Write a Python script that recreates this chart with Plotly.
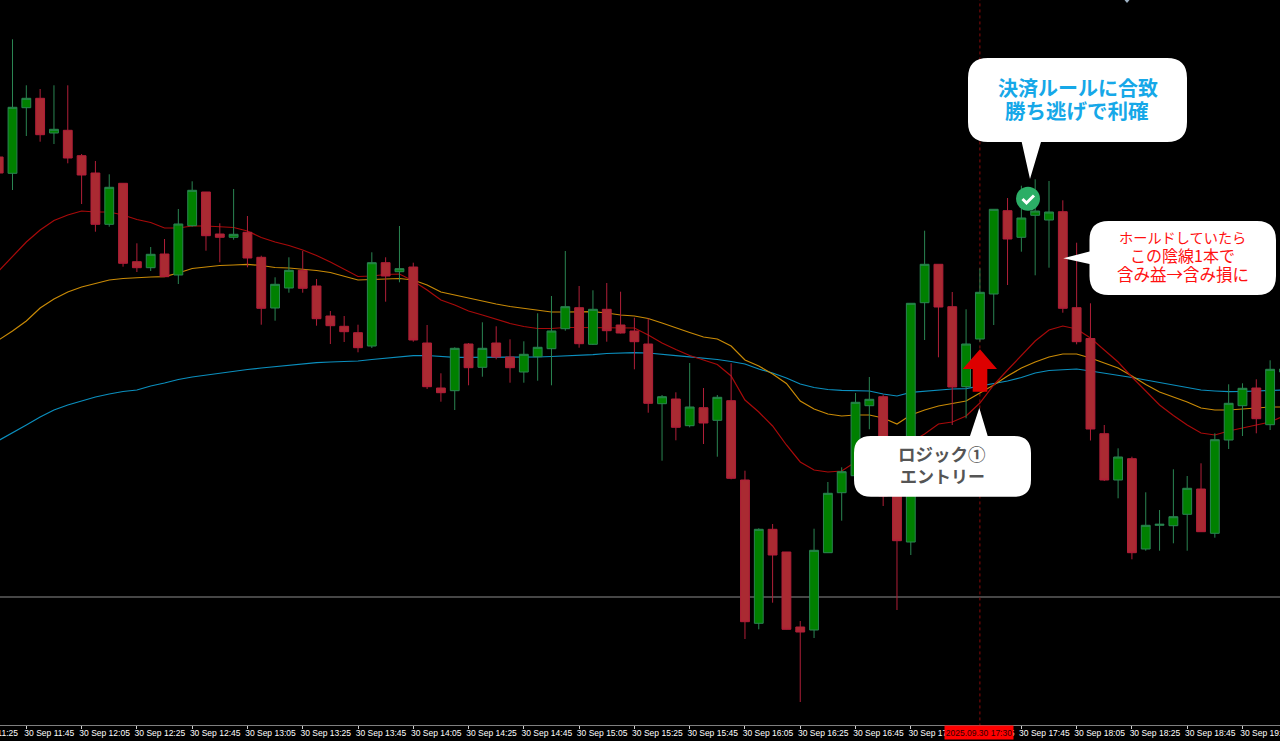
import pandas as pd
import plotly.graph_objects as go

# Candles, five-minute bars from 11:35 (level scale is arbitrary: no price axis is shown)
START = "2025-09-30 11:35"
opens = [568,551.7,617.3,626.7,592,594.7,569.3,552,500.7,541.7,463.3,457.3,471,450,499.3,533,491,487.7,492.7,467.7,
         417,437,454.7,439,409,398.7,392.3,379,462.3,453.3,458,382,337,334.3,381,357.7,382,368,353,368.3,
         376.3,396.3,417.3,380.7,415.7,400,394,381,321.3,326,299.3,317.3,304.7,324.3,245,101.7,195.7,173,98,95,
         172.3,232.3,249.3,319.3,328.3,255,183,422.3,460.7,418.3,338.3,386,431,514.3,487.7,509.7,505,513.3,417.3,386.5,
         291.3,245,266.3,176,199.7,199.3,210.7,236,191.7,285,319.3,337,300.3,353]
closes = [552,617.7,626.7,590.3,595.7,567,550,500.7,537.7,461.7,457.3,470.7,448.3,501,534.7,489.3,487.7,490.7,467,416.7,
          440.7,454.7,436.7,406.3,399.3,393.3,377.3,462.3,449,456.3,385,338.3,332.3,376.7,357.3,376.7,368,357.3,370.7,377.7,
          394,418.3,381.3,415.7,394.3,392,383.3,321.7,328.3,297.7,318,302,327.7,246.7,103.3,195.7,170,95.7,93,174.7,
          231.7,253.3,322.7,325.7,229,184.3,421.7,460.7,418,338,381,432.7,515.7,486,507,514,513,416.7,383.3,296,
          245,268,172.3,199.7,200.7,208.3,236.7,193.3,285.3,321.7,336.7,306.3,355.7,356]
highs = [568,685.7,639.7,636,639.7,639.7,571,564,550.7,541.7,481.7,478,486,516,543.7,533,501.7,536,509,469.3,
         447.7,467.7,474,446,414,409,400.3,472.7,467.7,499,462.3,400,351.7,377.7,382,402.7,398.7,385.7,383.7,411.7,
         429,474,439,434.7,442,433.3,407.3,406.7,330,332.7,362,337,330,361.7,254.3,196.7,201,173,104,196.3,
         243,257.7,332,348,330.3,270,421.7,494.3,460.7,433,415.7,456.7,515.7,527,539.3,545.7,544,524.7,482.3,421.7,
         300,276.7,268.3,232.7,215,255.7,249,261.7,291.7,340.7,341.7,345.7,364.7,358]
lows = [552,535,589,583.3,581,561.7,521,493.3,498.3,458.3,453,454,448,441,498.3,474.3,462.7,485.3,457.7,400.3,
        404.3,432.3,432.3,399.3,381,383,372.7,377,423.3,442.7,383.3,336,323.3,315,339.7,348.3,365.7,342.3,342.3,344.3,
        339.7,394.3,377.3,380,383.3,391.5,355.7,312.3,264.3,284.7,297.7,281,268.3,245.7,86,95.7,122.3,95.5,23,87,
        172.3,204.3,249,295.7,219,115,170,385,367.7,300,306.7,383.3,400,440,473.3,449.7,457.3,412.3,380.7,284.5,
        244,226.7,165.7,174.3,174.3,181.7,174.3,193,187.3,276,289,291.7,295,350]

# Moving averages
ma_red = [454,469,483,495,504.5,510,514,513,513,510,505.5,502.5,497,497,499,499,498.5,497.5,494,487.5,
          483,479.5,475,469.5,463,456,448.5,449,450.5,451,444,435,425,420,414,410,405.5,401.5,398.5,396.5,
          396.5,397.5,397.5,397.5,397,397,397,390,382,375.5,369.5,365,360.5,349,325,313,299,280,263,255,
          253,254,263,267,271,276,283,291,301,303,309,322,340,355,370,384,395,399,396,387,
          375,363,348,334,320,309.5,300,292,290,294,297,300,303,309]
ma_orange = [385,394,404,417,426,433,438,441.5,445,446.5,447.5,448,448.3,452,456.5,458,459.5,460,460.7,459.5,
             457.5,457,456,454.5,452.5,449,445,445.5,445.7,446.5,445,440,433,430,426.5,424,421,418.5,416.5,415,
             413,413,413.3,413.3,412,410,409,406.5,402,397,392.5,388,386,379,365,359,351,341.5,324,316,
             311,309,310,310,307,301,310,315,319,321.5,324,332,340,349,357,363,368,371,371,367,
             362,357,349,340.5,333,328,323,317,315,315,316,317,318,318]
ma_blue = [284.5,292,300,308,315,320,324,328,331,333.5,335,339,342,345.5,348,350,352,354,355.5,357,
           358.5,360,361.5,362.3,363,363.5,364,365.5,367,368.5,369.3,369.5,368.5,367.7,367.7,367.7,367.7,367.7,367.8,368,
           368.5,369,369.5,370.3,371.5,372.2,372.3,372,371,369.3,368.2,367,365.5,363.5,361,356,352,347,341,337.5,
           335.5,334.7,334.2,334,331,329,332.7,334,335,336,336.3,339,341.7,344,347.5,352,354.5,355,356,354,
           352,350,347.5,345,342.5,340,337,335,334,333.3,333.5,334,334.5,335]

TICK_LABELS = ["30 Sep 11:45","30 Sep 12:05","30 Sep 12:25","30 Sep 12:45","30 Sep 13:05","30 Sep 13:25",
               "30 Sep 13:45","30 Sep 14:05","30 Sep 14:25","30 Sep 14:45","30 Sep 15:05","30 Sep 15:25",
               "30 Sep 15:45","30 Sep 16:05","30 Sep 16:25","30 Sep 16:45","30 Sep 17:05","30 Sep 17:25",
               "30 Sep 17:45","30 Sep 18:05","30 Sep 18:25","30 Sep 18:45","30 Sep 19:05"]
LEFT_CLIPPED_LABEL = "30 Sep 11:25"
CURSOR_LABEL = "2025.09.30 17:30"
CURSOR_TIME = "2025-09-30 17:30"
H_LEVEL = 128

times = pd.date_range(START, periods=len(opens), freq="5min")
WIDTH, HEIGHT, PLOT_H = 1280, 741, 725
BAR_PX = 13.82
BAR_ZERO_PX = -1.32
step = pd.Timedelta(minutes=5)
x_range = [times[0] + step * ((0 - BAR_ZERO_PX) / BAR_PX), times[0] + step * ((WIDTH - BAR_ZERO_PX) / BAR_PX)]
y_range = [0, PLOT_H]

fx = lambda x: round(x / WIDTH, 5)
fy = lambda y: round((PLOT_H - y) / PLOT_H, 5)
P = lambda x, y: f"{fx(x)} {fy(y)}"


def callout(x0, y0, x1, y1, r, tail):
    d = [f"M {P(x0 + r, y0)}"]
    if tail[0] == "top":
        _, a, tx, ty, b = tail
        d += [f"L {P(a, y0)}", f"L {P(tx, ty)}", f"L {P(b, y0)}"]
    d += [f"L {P(x1 - r, y0)}", f"Q {P(x1, y0)} {P(x1, y0 + r)}", f"L {P(x1, y1 - r)}", f"Q {P(x1, y1)} {P(x1 - r, y1)}"]
    if tail[0] == "bottom":
        _, a, tx, ty, b = tail
        d += [f"L {P(b, y1)}", f"L {P(tx, ty)}", f"L {P(a, y1)}"]
    d += [f"L {P(x0 + r, y1)}", f"Q {P(x0, y1)} {P(x0, y1 - r)}"]
    if tail[0] == "left":
        _, a, tx, ty, b = tail
        d += [f"L {P(x0, b)}", f"L {P(tx, ty)}", f"L {P(x0, a)}"]
    d += [f"L {P(x0, y0 + r)}", f"Q {P(x0, y0)} {P(x0 + r, y0)}", "Z"]
    return dict(type="path", xref="paper", yref="paper", path=" ".join(d), fillcolor="#ffffff",
                line=dict(width=0), layer="above")


fig = go.Figure()
for vals, col in [(ma_blue, "#0b8fbe"), (ma_orange, "#c98a06"), (ma_red, "#a80a0a")]:
    fig.add_trace(go.Scatter(x=times, y=vals, mode="lines", line=dict(color=col, width=1.2), xaxis="x", yaxis="y"))
fig.add_trace(go.Candlestick(
    x=times, open=opens, high=highs, low=lows, close=closes, xaxis="x2", yaxis="y2", whiskerwidth=0,
    increasing=dict(line=dict(color="#2a8552", width=1), fillcolor="#008000"),
    decreasing=dict(line=dict(color="#b01f38", width=1), fillcolor="#aa2a32"),
))

shapes = [
    dict(type="line", xref="paper", x0=0, x1=1, yref="y", y0=H_LEVEL, y1=H_LEVEL,
         line=dict(color="#8c8c8c", width=1), layer="below"),
    dict(type="line", xref="x", x0=CURSOR_TIME, x1=CURSOR_TIME, yref="paper", y0=-0.002, y1=1,
         line=dict(color="#8b0a0a", width=1, dash="dot"), layer="below"),
    callout(968, 58, 1187, 142, 20, ("bottom", 1021.7, 1030, 179, 1041)),
    callout(1089.5, 221, 1276, 295, 19, ("left", 251.5, 1063.3, 258.3, 264)),
    callout(854, 436, 1031, 496.7, 17, ("top", 970, 979.3, 408, 987.7)),
    dict(type="path", xref="paper", yref="paper", layer="above", fillcolor="#dd0000", line=dict(width=0),
         path=" ".join([f"M {P(980, 349.3)}", f"L {P(997, 369)}", f"L {P(987.3, 369)}", f"L {P(987.3, 391.7)}",
                        f"L {P(972.7, 391.7)}", f"L {P(972.7, 369)}", f"L {P(962.7, 369)}", "Z"])),
    dict(type="circle", xref="paper", yref="paper", x0=fx(1016), x1=fx(1040), y0=fy(210.7), y1=fy(186.7),
         fillcolor="#2bae66", line=dict(width=0), layer="above"),
    dict(type="path", xref="paper", yref="paper", layer="above", line=dict(color="#ffffff", width=3),
         path=" ".join([f"M {P(1022.5, 199)}", f"L {P(1026.5, 203)}", f"L {P(1034, 195.5)}"])),
    dict(type="path", xref="paper", yref="paper", layer="above", fillcolor="#9fb2c4", line=dict(width=0),
         path=" ".join([f"M {P(1124.5, 0)}", f"L {P(1127, 3)}", f"L {P(1129.5, 0)}", "Z"])),
]


def label(text, x, y, size, color, family="Noto Sans CJK JP", **kw):
    return dict(text=text, xref="paper", yref="paper", x=fx(x), y=fy(y), showarrow=False, xanchor="center",
                yanchor="middle", font=dict(family=family, size=size, color=color), **kw)


annotations = [
    label("<b>決済ルールに合致</b>", 1077.5, 87, 20, "#16a8e8"),
    label("<b>勝ち逃げで利確</b>", 1077, 110, 20.5, "#16a8e8"),
    label("ホールドしていたら", 1182, 236.5, 14.2, "#ff1010"),
    label("この陰線1本で", 1182, 255.5, 16, "#ff1010"),
    label("含み益→含み損に", 1183, 274, 16.5, "#ff1010"),
    label("<b>ロジック①</b>", 942, 453, 17.5, "#555555"),
    label("<b>エントリー</b>", 942, 476, 17, "#555555"),
    label(LEFT_CLIPPED_LABEL, -7, 733, 8.5, "#ffffff", family="Liberation Sans"),
    label(CURSOR_LABEL, 979.5, 733, 8.5, "#300000", family="Liberation Sans",
          bgcolor="#ff0000", borderpad=1, width=66, height=11),
]

fig.update_layout(
    width=WIDTH, height=HEIGHT, autosize=False, showlegend=False, hovermode=False,
    margin=dict(l=0, r=0, t=0, b=HEIGHT - PLOT_H, pad=0),
    paper_bgcolor="#000000", plot_bgcolor="#000000", boxgap=0.36, boxgroupgap=0,
    shapes=shapes, annotations=annotations,
    xaxis=dict(range=x_range, type="date", showgrid=False, zeroline=False, showline=True, linecolor="#7f7f7f",
               linewidth=1, ticks="outside", ticklen=3, tickcolor="#cfcfcf", tickwidth=1, automargin=False,
               tickvals=list(times[2::4]), ticktext=TICK_LABELS, tickangle=0, ticklabelshift=23,
               ticklabelstandoff=-3, ticklabeloverflow="allow",
               tickfont=dict(family="Liberation Sans", size=8.5, color="#ffffff"),
               rangeslider=dict(visible=False)),
    yaxis=dict(range=y_range, visible=False, showgrid=False, zeroline=False, automargin=False),
    xaxis2=dict(range=x_range, type="date", overlaying="x", anchor="y2", visible=False, showgrid=False,
                automargin=False, rangeslider=dict(visible=False)),
    yaxis2=dict(range=y_range, overlaying="y", anchor="x2", visible=False, showgrid=False, automargin=False),
)

fig.write_html("out.html", config=dict(displayModeBar=False, staticPlot=True),
               post_script="document.body.style.margin='0';document.body.style.background='#000';")
